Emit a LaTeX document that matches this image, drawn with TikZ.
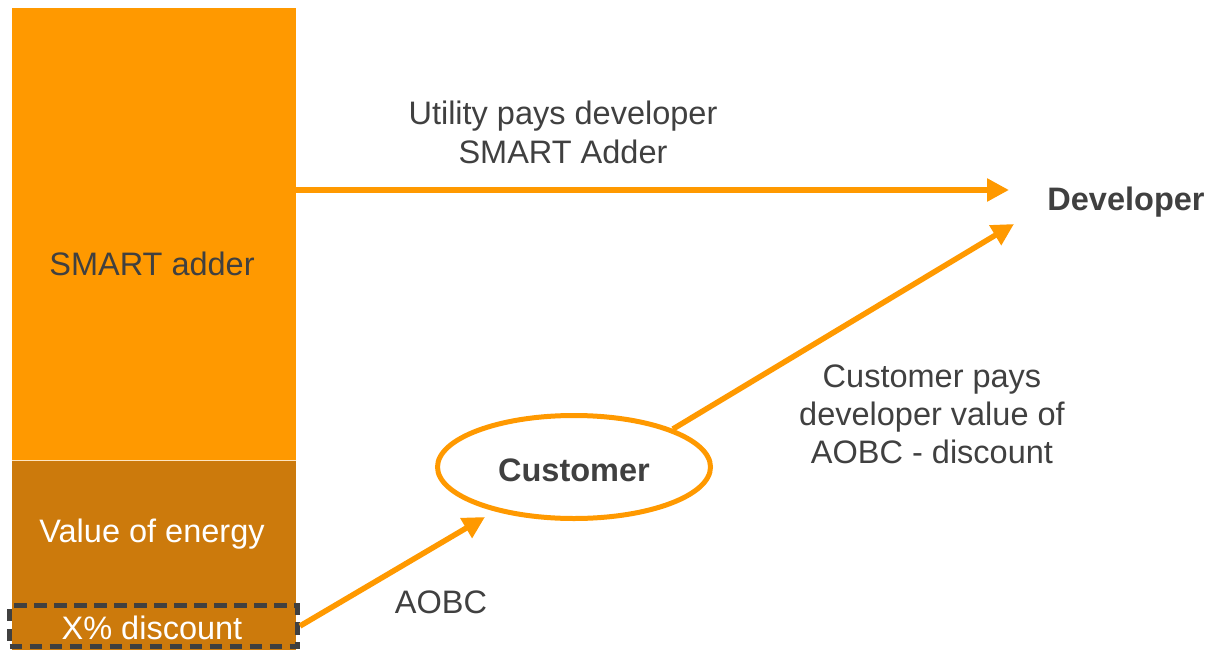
\documentclass[tikz,border=0pt]{standalone}
\usepackage{fontspec}
\setmainfont{Liberation Sans}
\usetikzlibrary{arrows.meta,shapes.geometric}
\definecolor{adderorange}{HTML}{FF9900}
\definecolor{energybrown}{HTML}{CC7A0C}
\definecolor{textgray}{HTML}{404040}
\begin{document}
\begin{tikzpicture}[x=1pt,y=-1pt,
  lbl/.style={font=\fontsize{32.5}{39}\selectfont, text=textgray, align=center, inner sep=0pt, anchor=base},
  boldlbl/.style={lbl, font=\fontsize{32.5}{39}\selectfont\bfseries},
  flow/.style={draw=adderorange, line width=5.5pt, -{Triangle[length=22pt,width=22pt]}}]
\useasboundingbox (0,0) rectangle (1214,650);
% stacked value bar
\fill[adderorange] (12,8) rectangle (296,460);
\fill[energybrown] (12,460) rectangle (296,650);
\draw[white!75!adderorange, line width=1pt] (12,460) -- (296,460);
\node[lbl] (adder) at (152,275) {SMART adder};
\node[lbl, text=white] (energy) at (152,542) {Value of energy};
% discount slice, dashed outline
\node[draw=textgray, line width=5pt, dash pattern=on 12.5pt off 7.5pt,
      minimum width=288pt, minimum height=41pt, inner sep=0pt] (discount) at (153.5,626) {};
\node[lbl, text=white] (disctext) at (152,639) {X\% discount};
% parties
\node[boldlbl] (dev) at (1126,210) {Developer};
\node[ellipse, draw=adderorange, line width=5pt, minimum width=273pt, minimum height=103pt,
      inner sep=0pt] (cust) at (574,467) {};
\node[boldlbl] (custtext) at (574,481) {Customer};
% payment flows
\coordinate (topsrc) at (296,190);
\coordinate (toptip) at (1009,190);
\draw[flow] (topsrc) -- (toptip);
\coordinate (custtip) at (485,517);
\draw[flow] (discount.east) -- (custtip);
\coordinate (devtip) at (1014,224);
\draw[flow] (cust.21) -- (devtip);
% flow labels (base anchor sits on the last line)
\node[lbl] (utl) at (563,163) {Utility pays developer\\SMART Adder};
\node[lbl, font=\fontsize{32.5}{38}\selectfont] (cpl) at (932,463) {Customer pays\\developer value of\\AOBC - discount};
\node[lbl] (aobc) at (441,613) {AOBC};
\end{tikzpicture}
\end{document}
